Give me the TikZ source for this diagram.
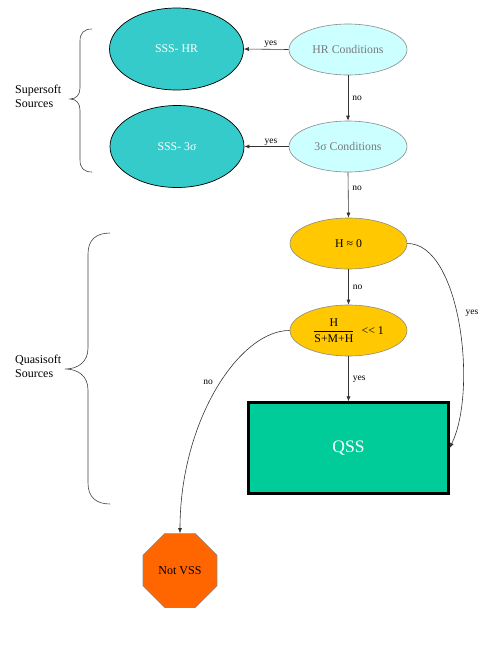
\documentclass[tikz,border=0pt]{standalone}
\usepackage{fontspec}
\setmainfont{Liberation Serif}
\usetikzlibrary{shapes.geometric,arrows.meta}
\definecolor{sssteal}{HTML}{36CBCB}
\definecolor{condcyan}{HTML}{CCFFFF}
\definecolor{gold}{HTML}{FFC800}
\definecolor{qssgreen}{HTML}{00CC99}
\definecolor{vssorange}{HTML}{FF6600}
\definecolor{edgegray}{HTML}{8A8A8A}
\definecolor{textgray}{HTML}{7A7A7A}
\tikzset{
  mainfont/.style={font=\fontsize{11.8}{13}\selectfont},
  lblfont/.style={font=\fontsize{9.5}{11}\selectfont},
  sss/.style={ellipse, draw=black, line width=0.7pt, fill=sssteal, text=white, minimum width=134pt, minimum height=82pt, inner sep=0pt, mainfont},
  cond/.style={ellipse, draw=edgegray, line width=0.6pt, fill=condcyan, text=textgray, minimum width=118pt, minimum height=51pt, inner sep=0pt, mainfont},
  test/.style={ellipse, draw=edgegray, line width=0.6pt, fill=gold, text=black, minimum width=117pt, minimum height=51pt, inner sep=0pt, mainfont},
  qssbox/.style={rectangle, draw=black, line width=2.2pt, fill=qssgreen, text=white, minimum width=200pt, minimum height=91pt, inner sep=0pt, font=\fontsize{17.5}{19}\selectfont},
  stopoct/.style={regular polygon, regular polygon sides=8, draw=edgegray, line width=0.6pt, fill=vssorange, text=black, minimum size=80pt, inner sep=0pt, font=\fontsize{12}{14}\selectfont},
  arr/.style={draw=black!80, line width=0.6pt, -{Latex[length=5pt,width=4pt]}},
  lbl/.style={lblfont, text=black, inner sep=1pt},
  brace/.style={draw=black!75, line width=0.6pt},
  side/.style={font=\fontsize{12}{14}\selectfont, align=left, anchor=west, inner sep=0pt}
}
\begin{document}
\begin{tikzpicture}[x=1pt,y=-1pt]
\useasboundingbox (0,0) rectangle (498,664);

\node[sss] (ssshr) at (176.5,49) {SSS- HR};
\node[cond] (hrc) at (348,49.5) {HR Conditions};
\node[sss] (sss3) at (177,146.5) {SSS- 3σ};
\node[cond] (sigc) at (348,146.5) {3σ Conditions};
\node[test] (h0) at (348.5,243.5) {H ≈ 0};
\node[test] (ratio) at (348.5,330.5) {$\displaystyle\frac{\mbox{H}}{\mbox{S+M+H}}$\hspace{0.6em}<{}< 1};
\node[qssbox] (qss) at (348.5,448) {QSS};
\node[stopoct] (nvss) at (180,570.5) {Not VSS};

\draw[arr] (hrc.west) -- node[lbl, above, pos=0.4] {yes} (ssshr.east);
\draw[arr] (sigc.west) -- node[lbl, above, pos=0.4] {yes} (sss3.east);
\draw[arr] (hrc.south) -- node[lbl, right=3pt] {no} (sigc.north);
\draw[arr] (sigc.south) -- node[lbl, right=3pt, pos=0.35] {no} (h0.north);
\draw[arr] (h0.south) -- node[lbl, right=3pt] {no} (ratio.north);
\draw[arr] (ratio.south) -- node[lbl, right=3pt, pos=0.5] {yes} (qss.north);

\coordinate (qssr) at (qss.east);
\draw[arr] (h0.east) .. controls (460,243) and (478,390) .. (qssr);
\node[lbl] (yeslbl) at (472,313) {yes};
\draw[arr] (ratio.west) .. controls (240,330) and (180,420) .. (nvss.north);
\node[lbl] (nolbl) at (208,382) {no};

% Supersoft brace
\draw[brace] (92,29) .. controls (84,29) and (80,33) .. (80,41) -- (80,88)
  .. controls (80,95) and (76,99) .. (70,99)
  .. controls (76,99) and (80,103) .. (80,110) -- (80,160)
  .. controls (80,168) and (84,172) .. (92,172);
\node[side] (supersoft) at (15,96) {Supersoft\\Sources};

% Quasisoft brace
\draw[brace] (110,233) .. controls (96,233) and (88,240) .. (88,254) -- (88,348)
  .. controls (88,362) and (78,369) .. (65,369)
  .. controls (78,369) and (88,376) .. (88,390) -- (88,483)
  .. controls (88,497) and (96,504) .. (110,504);
\node[side] (quasisoft) at (15,366) {Quasisoft\\Sources};
\end{tikzpicture}
\end{document}
